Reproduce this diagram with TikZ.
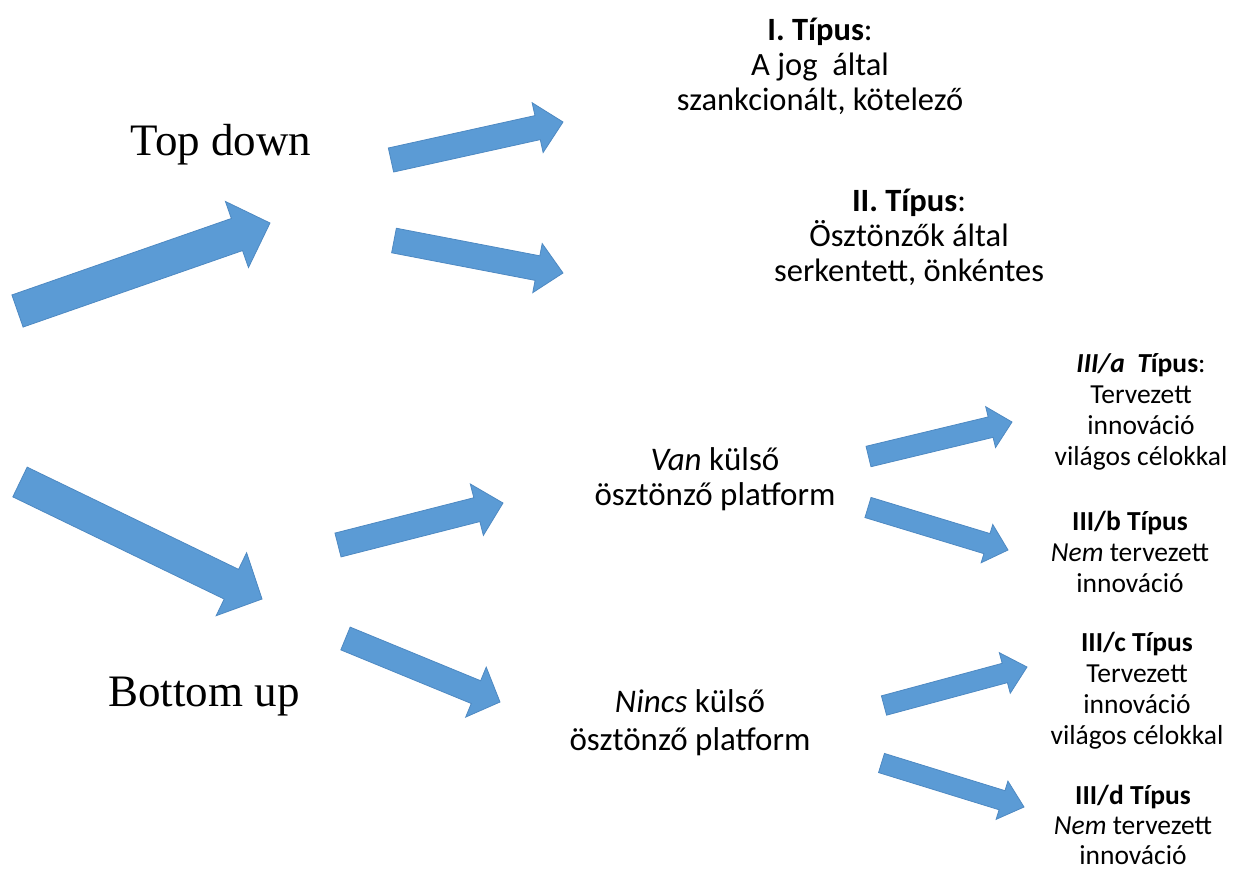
\documentclass[tikz,border=0pt]{standalone}
\usepackage{fontspec}
\setmainfont{Carlito}
\newfontfamily\serifhead{Liberation Serif}
\usetikzlibrary{calc}
\definecolor{arrowblue}{HTML}{5B9BD5}
\definecolor{arrowedge}{HTML}{4E89C2}
\tikzset{
  blockarrow/.style={fill=arrowblue, draw=arrowedge, line width=0.8pt, line join=miter},
  headlabel/.style={inner sep=0pt, font=\serifhead\fontsize{45}{50}\selectfont},
  bigtype/.style={inner sep=0pt, align=center, font=\fontsize{32.5}{35}\selectfont},
  midtype/.style={inner sep=0pt, align=center, font=\fontsize{33}{35}\selectfont},
  smalltype/.style={inner sep=0pt, align=center, font=\fontsize{27.5}{31}\selectfont},
}
% block arrow from a tail centre to a tip: half shaft width, half head width, head length
\newcommand\blockarrow[5]{%
  \coordinate (#1#2neck) at ($(#2)!#5!(#1)$);
  \draw[blockarrow]
    ($(#1)!#3!90:(#2)$) -- ($(#1#2neck)!#3!-90:(#1)$) -- ($(#1#2neck)!#4!-90:(#1)$)
    -- (#2)
    -- ($(#1#2neck)!#4!90:(#1)$) -- ($(#1#2neck)!#3!90:(#1)$) -- ($(#1)!#3!-90:(#2)$) -- cycle;
}
\begin{document}
\begin{tikzpicture}[x=1pt,y=-1pt]
\useasboundingbox (0,0) rectangle (1234,870);

% main labels
\node[headlabel] (top) at (221,145) {Top down};
\node[headlabel] (bottom) at (204,697) {Bottom up};

% types
\node[bigtype] (t1) at (820,66) {\textbf{I. Típus}:\\A jog\ \ által\\szankcionált, kötelező};
\node[bigtype] (t2) at (909,237) {\textbf{II. Típus}:\\Ösztönzők által\\serkentett, önkéntes};
\node[midtype] (van) at (715,479) {\textit{Van} külső\\ösztönző platform};
\node[midtype, font=\fontsize{33}{38}\selectfont] (nincs) at (690,723) {\textit{Nincs} külső\\ösztönző platform};
\node[smalltype] (t3a) at (1141,412) {{\bfseries\itshape III/a\ \ T}{\bfseries ípus}:\\Tervezett\\innováció\\világos célokkal};
\node[smalltype] (t3b) at (1130,552) {\textbf{III/b Típus}\\\textit{Nem} tervezett\\innováció};
\node[smalltype] (t3c) at (1137,691) {\textbf{III/c Típus}\\Tervezett\\innováció\\világos célokkal};
\node[smalltype, font=\fontsize{27.5}{30}\selectfont] (t3d) at (1133,825) {\textbf{III/d Típus}\\\textit{Nem} tervezett\\innováció};

% arrow tails and tips
\coordinate (a1t) at (17.5,311);  \coordinate (a1h) at (270,223);
\coordinate (a2t) at (20,482);    \coordinate (a2h) at (262,599);
\coordinate (a3t) at (391,160);   \coordinate (a3h) at (563,122);
\coordinate (a4t) at (394,240.5); \coordinate (a4h) at (563,273);
\coordinate (a5t) at (338,545);   \coordinate (a5h) at (503,503);
\coordinate (a6t) at (345.5,638.5); \coordinate (a6h) at (500,702);
\coordinate (a7t) at (868.5,456.5); \coordinate (a7h) at (1012,422);
\coordinate (a8t) at (868,507.5); \coordinate (a8h) at (1008,550);
\coordinate (a9t) at (884,705.5); \coordinate (a9h) at (1027,667);
\coordinate (a10t) at (881.5,763); \coordinate (a10h) at (1024,807);

\blockarrow{a1t}{a1h}{17pt}{35pt}{35pt}
\blockarrow{a2t}{a2h}{16.5pt}{35pt}{34pt}
\blockarrow{a3t}{a3h}{12.3pt}{25.5pt}{26pt}
\blockarrow{a4t}{a4h}{12.5pt}{25pt}{26pt}
\blockarrow{a5t}{a5h}{12.3pt}{26.5pt}{27pt}
\blockarrow{a6t}{a6h}{12.3pt}{27pt}{26pt}
\blockarrow{a7t}{a7h}{10.5pt}{21pt}{22pt}
\blockarrow{a8t}{a8h}{10.5pt}{20pt}{22pt}
\blockarrow{a9t}{a9h}{10pt}{21pt}{23pt}
\blockarrow{a10t}{a10h}{10pt}{20pt}{23pt}
\end{tikzpicture}
\end{document}
